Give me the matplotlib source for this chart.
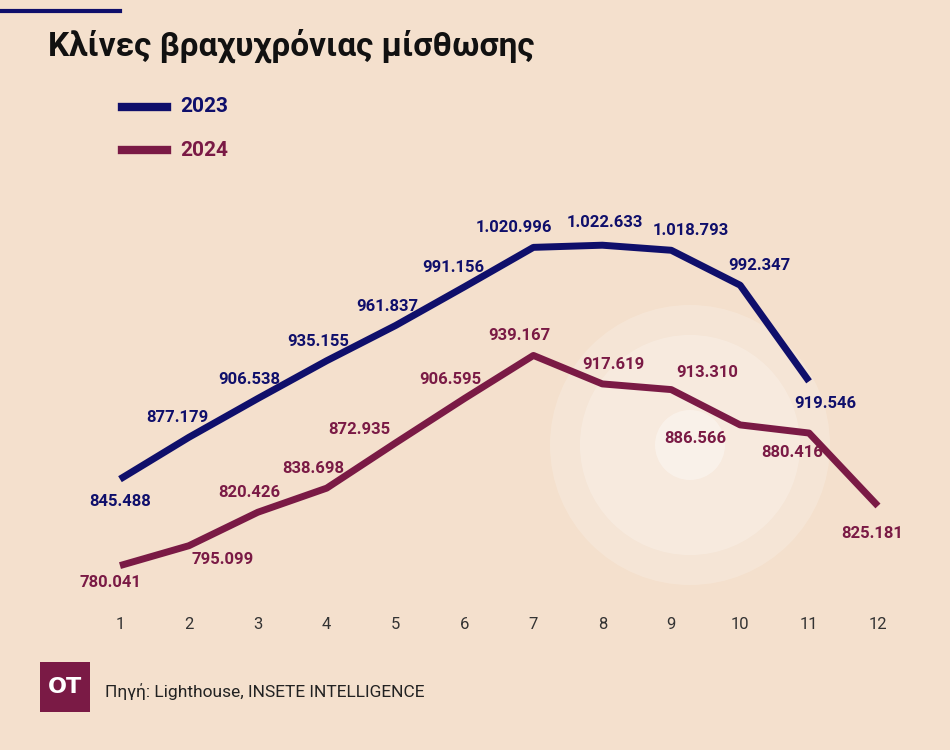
import matplotlib.pyplot as plt
from matplotlib.patches import Circle, Rectangle

months = list(range(1, 13))
tick_labels = [str(m) for m in months]
v2023 = [845488, 877179, 906538, 935155, 961837, 991156, 1020996, 1022633, 1018793, 992347, 919546]
v2024 = [780041, 795099, 820426, 838698, 872935, 906595, 939167, 917619, 913310, 886566, 880416, 825181]

def fmt(v):
    return f"{v:,}".replace(",", ".")

bg = "#F4E0CD"; navy = "#0F0F6B"; maroon = "#7A1A45"
fig = plt.figure(figsize=(9.5, 7.5), dpi=100, facecolor=bg)
ax = fig.add_axes([100/950, 150/750, 800/950, 420/750])
ax.set_facecolor(bg)
for s in ax.spines.values(): s.set_visible(False)
ax.set_xlim(0.71, 12.32)
ax.set_ylim(754000, 1072000)
ax.set_yticks([])
ax.set_xticks(months)
ax.set_xticklabels(tick_labels, fontsize=12, color="#333333", family="Roboto")
ax.tick_params(axis='x', length=0, pad=12)

# decorative circles (display pixel coords)
for r, a in [(140, 0.18), (110, 0.22), (35, 0.35)]:
    c = Circle((690, 750-445), r, transform=None, facecolor="white", alpha=a,
               edgecolor="none", zorder=1)
    c.set_clip_on(False)
    ax.add_artist(c)

ax.plot(months[:len(v2023)], v2023, color=navy, lw=5, solid_capstyle='butt', zorder=3)
ax.plot(months, v2024, color=maroon, lw=5, solid_capstyle='butt', zorder=3)

off23 = [(0, -16), (-8, 14), (-6, 14), (-6, 14), (-6, 14), (-8, 14), (-14, 14), (2, 16), (14, 14), (14, 14), (12, -16)]
off24 = [(-7, -12), (24, -10), (-6, 14), (-10, 14), (-26, 10), (-10, 14), (-10, 14), (8, 14), (26, 12), (-32, -10), (-12, -14), (-4, -20)]
for x, v, o in zip(months, v2023, off23):
    ax.annotate(fmt(v), (x, v), xytext=o, textcoords="offset points", ha="center", va="center",
                fontsize=12, fontweight="bold", color=navy, family="Roboto", zorder=4)
for x, v, o in zip(months, v2024, off24):
    ax.annotate(fmt(v), (x, v), xytext=o, textcoords="offset points", ha="center", va="center",
                fontsize=12, fontweight="bold", color=maroon, family="Roboto", zorder=4)

fig.add_artist(plt.Line2D([0, 120/950], [1-11/750]*2, color=navy, lw=3))
fig.text(48/950, 1-46/750, "Κλίνες βραχυχρόνιας μίσθωσης", fontsize=24, fontweight="bold",
         color="#111111", va="center", family="Roboto")
for y, c, t in [(107, navy, "2023"), (150, maroon, "2024")]:
    fig.add_artist(plt.Line2D([122/950, 167/950], [1-y/750]*2, color=c, lw=6))
    fig.text(180/950, 1-y/750, t, fontsize=15, fontweight="bold", color=c, va="center", family="Roboto")

fig.patches.append(Rectangle((40/950, 1-712/750), 50/950, 50/750, transform=fig.transFigure,
                             facecolor=maroon, edgecolor="none"))
fig.text(65/950, 1-687/750, "OT", fontsize=16, fontweight="bold", color="white", ha="center", va="center")
fig.text(105/950, 1-692/750, "Πηγή: Lighthouse, INSETE INTELLIGENCE", fontsize=12.5, color="#222222",
         va="center", family="Roboto")
fig.savefig("out.png", facecolor=bg)
